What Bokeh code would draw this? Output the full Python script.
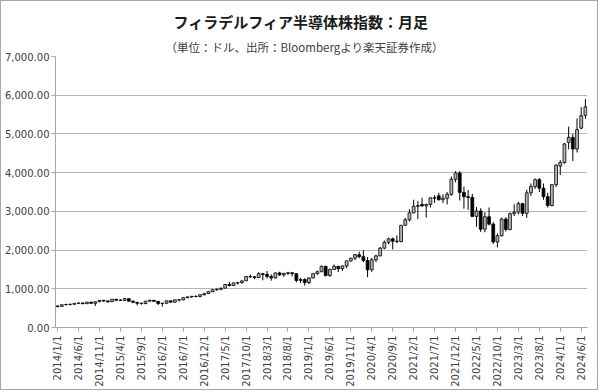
import math
from bokeh.plotting import figure
from bokeh.models import FixedTicker, NumeralTickFormatter, Title, ColumnDataSource
from bokeh.embed import file_html
from bokeh.resources import INLINE

title_text = "フィラデルフィア半導体株指数：月足"
subtitle_text = "（単位：ドル、出所：Bloombergより楽天証券作成）"

tick_labels = ["2014/1/1", "2014/6/1", "2014/11/1", "2015/4/1", "2015/9/1", "2016/2/1",
               "2016/7/1", "2016/12/1", "2017/5/1", "2017/10/1", "2018/3/1", "2018/8/1",
               "2019/1/1", "2019/6/1", "2019/11/1", "2020/4/1", "2020/9/1", "2021/2/1",
               "2021/7/1", "2021/12/1", "2022/5/1", "2022/10/1", "2023/3/1", "2023/8/1",
               "2024/1/1", "2024/6/1"]
y_ticks = [0, 1000, 2000, 3000, 4000, 5000, 6000, 7000]

# monthly OHLC, 2014/1 .. 2024/7
opens = [553, 545, 588, 596, 600, 625, 632, 615, 655, 625, 665, 700,
         686, 665, 730, 705, 700, 745, 680, 650, 625, 620, 680, 705,
         675, 620, 625, 690, 655, 715, 712, 770, 790, 805, 800, 845,
         875, 925, 975, 990, 1015, 1110, 1085, 1150, 1160, 1205, 1315, 1310,
         1290, 1390, 1370, 1320, 1280, 1410, 1360, 1400, 1415, 1390, 1215, 1240,
         1160, 1280, 1390, 1440, 1580, 1340, 1500, 1580, 1520, 1590, 1720, 1790,
         1880, 1830, 1730, 1490, 1750, 1850, 2050, 2200, 2290, 2230, 2220, 2640,
         2780, 2960, 3130, 3180, 3140, 3180, 3350, 3400, 3300, 3340, 3440, 3830,
         3990, 3490, 3380, 3360, 2870, 3010, 2540, 2860, 2670, 2210, 2370, 2800,
         2530, 2940, 2980, 3200, 2950, 3480, 3640, 3820, 3600, 3380, 3150, 3690,
         4170, 4260, 4780, 4910, 4610, 5150, 5480]
highs = [570, 592, 610, 615, 630, 645, 650, 660, 670, 670, 705, 715,
         700, 735, 740, 735, 760, 750, 700, 660, 650, 685, 715, 710,
         680, 640, 695, 700, 720, 730, 780, 800, 815, 830, 860, 890,
         935, 985, 1010, 1030, 1120, 1180, 1160, 1180, 1210, 1320, 1370, 1330,
         1430, 1410, 1460, 1370, 1420, 1440, 1410, 1440, 1420, 1400, 1280, 1270,
         1300, 1400, 1470, 1600, 1590, 1520, 1630, 1590, 1600, 1730, 1800, 1900,
         1960, 2000, 1820, 1800, 1880, 2080, 2250, 2320, 2320, 2380, 2650, 2830,
         3060, 3300, 3270, 3350, 3200, 3360, 3420, 3480, 3440, 3500, 3900, 4040,
         4040, 3640, 3550, 3450, 3110, 3080, 2980, 3100, 2720, 2430, 2840, 2850,
         2970, 3180, 3250, 3220, 3560, 3720, 3850, 3860, 3720, 3480, 3700, 4220,
         4320, 4770, 5190, 5000, 5400, 5690, 5900]
lows = [520, 535, 570, 570, 590, 615, 605, 610, 610, 555, 655, 660,
        640, 660, 680, 690, 695, 670, 630, 570, 590, 600, 670, 660,
        580, 540, 620, 640, 640, 670, 705, 760, 770, 780, 780, 830,
        865, 915, 950, 960, 1010, 1060, 1070, 1110, 1130, 1200, 1280, 1250,
        1280, 1220, 1270, 1210, 1270, 1330, 1310, 1360, 1320, 1170, 1150, 1080,
        1120, 1270, 1360, 1430, 1320, 1310, 1490, 1430, 1460, 1530, 1700, 1740,
        1790, 1690, 1300, 1440, 1690, 1840, 2020, 2150, 2020, 2180, 2200, 2620,
        2740, 2950, 2800, 3120, 2840, 3100, 3220, 3280, 3220, 3180, 3400, 3750,
        3280, 3070, 3040, 2850, 2600, 2470, 2460, 2640, 2160, 2070, 2350, 2480,
        2510, 2880, 2920, 2880, 2830, 3400, 3580, 3500, 3300, 3100, 3130, 3630,
        3940, 4230, 4600, 4300, 4520, 5120, 5390]
closes = [545, 588, 596, 600, 625, 632, 615, 655, 625, 665, 700, 686,
          665, 730, 705, 700, 745, 680, 650, 625, 620, 680, 705, 675,
          620, 625, 690, 655, 715, 712, 770, 790, 805, 800, 845, 875,
          925, 975, 990, 1015, 1110, 1085, 1150, 1160, 1205, 1315, 1310, 1290,
          1390, 1370, 1320, 1280, 1410, 1360, 1400, 1415, 1390, 1215, 1240, 1160,
          1280, 1390, 1440, 1580, 1340, 1500, 1580, 1520, 1590, 1720, 1790, 1880,
          1830, 1730, 1490, 1750, 1850, 2050, 2200, 2290, 2230, 2220, 2640, 2780,
          2960, 3130, 3150, 3140, 3180, 3350, 3340, 3300, 3340, 3440, 3830, 3990,
          3490, 3380, 3360, 2870, 3010, 2540, 2860, 2670, 2210, 2370, 2800, 2530,
          2940, 2980, 3200, 2950, 3480, 3640, 3820, 3600, 3380, 3150, 3690, 4190,
          4260, 4740, 4910, 4610, 5110, 5470, 5700]

n = len(closes)
xs = list(range(n))
src = ColumnDataSource(dict(
    x=xs, high=highs, low=lows,
    top=[max(o, c) for o, c in zip(opens, closes)],
    bottom=[min(o, c) for o, c in zip(opens, closes)],
    fill=["#b4b4b4" if c >= o else "#000000" for o, c in zip(opens, closes)],
))

p = figure(width=598, height=390, output_backend="svg", toolbar_location=None,
           x_range=(-0.5, n - 0.5), y_range=(0, 7000),
           min_border_left=54, min_border_right=12, min_border_top=55, min_border_bottom=64,
           background_fill_color="white", border_fill_color="white")
p.title.visible = False
p.styles = {"border": "1px solid #a8a8a8"}
p.outline_line_color = None
p.xgrid.grid_line_color = None
p.ygrid.grid_line_color = "#b4b4b4"
p.ygrid.grid_line_width = 1
p.ygrid.ticker = FixedTicker(ticks=y_ticks)

p.segment(x0="x", y0="low", x1="x", y1="high", source=src, line_color="black", line_width=1)
p.vbar(x="x", width=0.68, top="top", bottom="bottom", source=src,
       fill_color="fill", line_color="black", line_width=0.8)

yax = p.yaxis[0]
yax.ticker = FixedTicker(ticks=y_ticks)
yax.formatter = NumeralTickFormatter(format="0,0.00")
yax.major_label_text_font = "DejaVu Sans"
yax.major_label_text_font_size = "10px"
yax.major_label_text_color = "#404040"
yax.axis_line_color = "#a6a6a6"
yax.major_tick_line_color = "#a6a6a6"
yax.major_tick_out = 4
yax.major_tick_in = 0
yax.minor_tick_line_color = None
yax.major_label_standoff = 2

xax = p.xaxis[0]
xax.ticker = FixedTicker(ticks=[i * 5 for i in range(len(tick_labels))])
xax.major_label_overrides = {i * 5: t for i, t in enumerate(tick_labels)}
xax.major_label_orientation = math.pi / 2
xax.major_label_text_font = "DejaVu Sans"
xax.major_label_text_font_size = "10px"
xax.major_label_text_color = "#404040"
xax.axis_line_color = "#a6a6a6"
xax.major_tick_line_color = "#a6a6a6"
xax.major_tick_out = 4
xax.major_tick_in = 0
xax.minor_tick_line_color = None
xax.major_label_standoff = 4

p.add_layout(Title(text=subtitle_text, align="left", offset=110, standoff=4,
                   text_font="Noto Sans CJK JP", text_font_style="normal",
                   text_font_size="11.5px", text_color="#404040"), "above")
p.add_layout(Title(text=title_text, align="left", offset=118, standoff=6,
                   text_font="Noto Sans CJK JP", text_font_style="bold",
                   text_font_size="15px", text_color="#1a1a1a"), "above")

open("out.html", "w").write(file_html(p, INLINE))
